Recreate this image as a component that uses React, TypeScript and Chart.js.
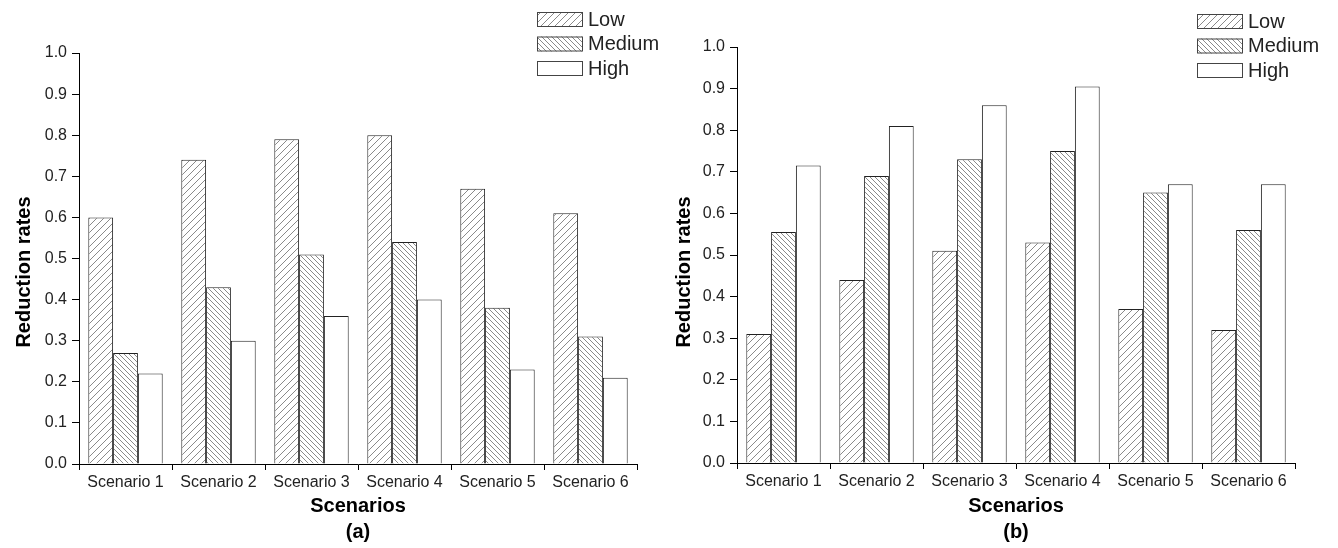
import React, { useEffect, useRef } from "react";
import { Chart, registerables } from "chart.js";

Chart.register(...registerables);

const categories = ["Scenario 1", "Scenario 2", "Scenario 3", "Scenario 4", "Scenario 5", "Scenario 6"];
const seriesNames = ["Low", "Medium", "High"];

const lowA = [0.6, 0.74, 0.79, 0.8, 0.67, 0.61];
const mediumA = [0.27, 0.43, 0.51, 0.54, 0.38, 0.31];
const highA = [0.22, 0.3, 0.36, 0.4, 0.23, 0.21];

const lowB = [0.31, 0.44, 0.51, 0.53, 0.37, 0.32];
const mediumB = [0.555, 0.69, 0.73, 0.75, 0.65, 0.56];
const highB = [0.715, 0.81, 0.86, 0.905, 0.67, 0.67];

const yMin = 0;
const yMax = 1;
const yStep = 0.1;

const xTitle = "Scenarios";
const yTitle = "Reduction rates";

const FONT = "'Liberation Sans', Arial, sans-serif";

function makePattern(ctx: CanvasRenderingContext2D, kind: string): CanvasPattern | string {
  if (kind === "none") return "#ffffff";
  const s = kind === "fwd" ? 7 : 5;
  const tile = document.createElement("canvas");
  tile.width = s;
  tile.height = s;
  const t = tile.getContext("2d")!;
  t.fillStyle = "#ffffff";
  t.fillRect(0, 0, s, s);
  t.fillStyle = "#8a8a8a";
  for (let i = 0; i < s; i++) {
    if (kind === "fwd") t.fillRect(i, s - 1 - i, 1, 1);
    else t.fillRect(i, i, 1, 1);
  }
  return ctx.createPattern(tile, "repeat")!;
}

type PanelProps = {
  left: number;
  width: number;
  top: number;
  bottomAxis: number;
  low: number[];
  medium: number[];
  high: number[];
  tag: string;
  yTitleX: number;
  legendX: number;
  legendY: number;
};

function Panel(p: PanelProps) {
  const ref = useRef<HTMLCanvasElement | null>(null);
  useEffect(() => {
    const canvas = ref.current!;
    const ctx = canvas.getContext("2d")!;
    const kinds = ["fwd", "back", "none"];
    const fills = kinds.map((k) => makePattern(ctx, k));
    const H = 548;
    const areaLeft = 79;
    const areaRight = areaLeft + 558;
    const xAxisBottom = 500;

    const decorPlugin = {
      id: "decor",
      afterDraw(chart: any) {
        const c = chart.ctx;
        const area = chart.chartArea;
        c.save();
        // legend
        seriesNames.forEach((name, i) => {
          const cy = p.legendY + i * 24.5;
          c.fillStyle = fills[i] as any;
          c.fillRect(p.legendX, cy - 7, 46, 15);
          c.strokeStyle = "#444";
          c.lineWidth = 1;
          c.strokeRect(p.legendX + 0.5, cy - 6.5, 45, 14);
          c.fillStyle = "#222";
          c.font = `20px ${FONT}`;
          c.textBaseline = "middle";
          c.textAlign = "left";
          c.fillText(name, p.legendX + 51, cy + 1);
        });
        // axis titles
        c.fillStyle = "#000";
        c.font = `bold 20px ${FONT}`;
        c.textAlign = "center";
        c.textBaseline = "middle";
        const cx = (area.left + area.right) / 2;
        c.fillText(xTitle, cx, 506);
        c.fillText(p.tag, cx, 532);
        c.translate(p.yTitleX, 272);
        c.rotate(-Math.PI / 2);
        c.fillText(yTitle, 0, 0);
        c.restore();
      },
    };

    const chart = new Chart(canvas, {
      type: "bar",
      data: {
        labels: categories,
        datasets: [p.low, p.medium, p.high].map((d, i) => ({
          label: seriesNames[i],
          data: d,
          backgroundColor: fills[i] as any,
          borderColor: "#222",
          borderWidth: 1,
          categoryPercentage: 0.8,
          barPercentage: 1,
        })),
      },
      options: {
        animation: false,
        responsive: false,
        layout: {
          padding: { left: 0, top: p.top, right: p.width - areaRight, bottom: H - xAxisBottom },
        },
        plugins: { legend: { display: false }, tooltip: { enabled: false } },
        scales: {
          x: {
            afterFit(scale: any) {
              scale.height = xAxisBottom - p.bottomAxis;
            },
            grid: { display: true, drawOnChartArea: false, drawTicks: true, tickLength: 6, color: "#000", offset: true },
            border: { display: true, color: "#000", width: 1 },
            ticks: { color: "#222", font: { family: FONT, size: 16 }, padding: 3, maxRotation: 0 },
          },
          y: {
            min: yMin,
            max: yMax,
            afterFit(scale: any) {
              scale.width = areaLeft;
            },
            grid: { display: true, drawOnChartArea: false, drawTicks: true, tickLength: 7, color: "#000" },
            border: { display: true, color: "#000", width: 1 },
            ticks: {
              stepSize: yStep,
              color: "#222",
              font: { family: FONT, size: 16 },
              padding: 5,
              callback: (v: any) => Number(v).toFixed(1),
            },
          },
        },
      },
      plugins: [decorPlugin],
    } as any);
    return () => chart.destroy();
  }, []);
  return (
    <canvas
      ref={ref}
      width={p.width}
      height={548}
      style={{ position: "absolute", left: p.left, top: 0, width: p.width, height: 548 }}
    />
  );
}

export default function App() {
  return (
    <div style={{ position: "fixed", left: 0, top: 0, width: 1338, height: 548, background: "#fff" }}>
      <Panel left={0} width={669} top={53} bottomAxis={464} low={lowA} medium={mediumA} high={highA} tag="(a)" yTitleX={24} legendX={537} legendY={19} />
      <Panel left={658} width={680} top={47} bottomAxis={463} low={lowB} medium={mediumB} high={highB} tag="(b)" yTitleX={26} legendX={539} legendY={21} />
    </div>
  );
}
